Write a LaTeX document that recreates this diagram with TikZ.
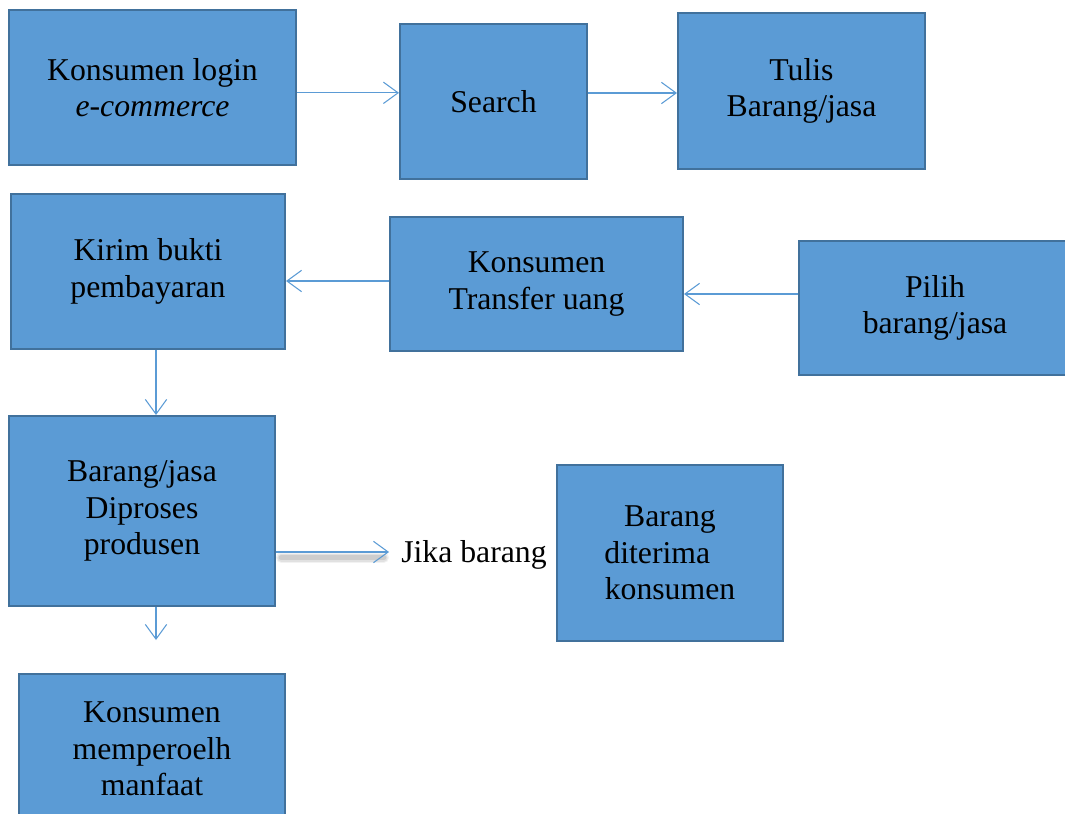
\documentclass[tikz,border=0pt]{standalone}
\usepackage{fontspec}
\setmainfont{Liberation Serif}
\usetikzlibrary{arrows.meta,positioning}
\definecolor{boxfill}{HTML}{5B9BD5}
\definecolor{boxline}{HTML}{41719C}

\begin{document}
\begin{tikzpicture}[x=0.75pt,y=-0.75pt,
  box/.style={draw=boxline,line width=1.5pt,fill=boxfill,inner sep=0pt,align=center,font=\fontsize{23.8}{27.5}\selectfont},
  flow/.style={draw=boxfill,line width=0.8pt,-{Straight Barb[length=11pt,width=16pt]}},
  shadowline/.style={black,line cap=round}]
\useasboundingbox (0,0) rectangle (1065,814);
\node[box,minimum width=215.25pt,minimum height=116.25pt] (login) at (152.5,87.5) {Konsumen login\\\textit{e-commerce}};
\node[box,minimum width=140.25pt,minimum height=116.25pt] (search) at (493.5,101.5) {Search};
\node[box,minimum width=185.25pt,minimum height=117pt] (tulis) at (801.5,91) {Tulis\\Barang/jasa};
\node[box,minimum width=205.5pt,minimum height=116.25pt] (kirim) at (148,271.5) {Kirim bukti\\pembayaran};
\node[box,minimum width=219.75pt,minimum height=100.5pt] (transfer) at (536.5,284) {Konsumen\\Transfer uang};
\node[box,minimum width=204pt,minimum height=100.5pt] (pilih) at (935,308) {Pilih\\barang/jasa};
\node[box,minimum width=199.5pt,minimum height=142.5pt] (diproses) at (142,511) {Barang/jasa\\Diproses\\produsen};
\node[box,minimum width=169.5pt,minimum height=132pt] (diterima) at (670,553) {Barang\\diterima\rule{19pt}{0pt}\\konsumen};
\node[box,minimum width=199.5pt,minimum height=112.5pt] (manfaat) at (152,749) {Konsumen\\memperoelh\\manfaat};
\node[font=\fontsize{23.8}{27.5}\selectfont,inner sep=3pt] (jika) at (474,555) {Jika barang};
\coordinate (hasil) at (156,640);
\draw[flow] ([yshift=-4pt]login.east) -- ([yshift=-4pt]login.east -| search.west);
\draw[flow] ([yshift=-1.5pt]tulis.west -| search.east) -- ([yshift=-1.5pt]tulis.west);
\draw[flow] ([yshift=10.5pt]pilih.west) -- ([yshift=10.5pt]pilih.west -| transfer.east);
\draw[flow] ([yshift=2.25pt]transfer.west) -- ([yshift=2.25pt]transfer.west -| kirim.east);
\draw[flow] ([xshift=6pt]kirim.south) -- ([xshift=6pt]kirim.south |- diproses.north);
\draw[flow] (diproses.south -| hasil) -- (hasil);
\foreach \w/\o in {8pt/0.05,6pt/0.07,4pt/0.09}
  \draw[shadowline,line width=\w,opacity=\o] ([yshift=-35pt,xshift=4pt]diproses.east) -- ([yshift=-35pt,xshift=-10pt]diproses.east -| jika.west);
\draw[flow,shorten >=6pt] ([yshift=-30.75pt]diproses.east) -- ([yshift=-30.75pt]diproses.east -| jika.west);
\end{tikzpicture}
\end{document}
